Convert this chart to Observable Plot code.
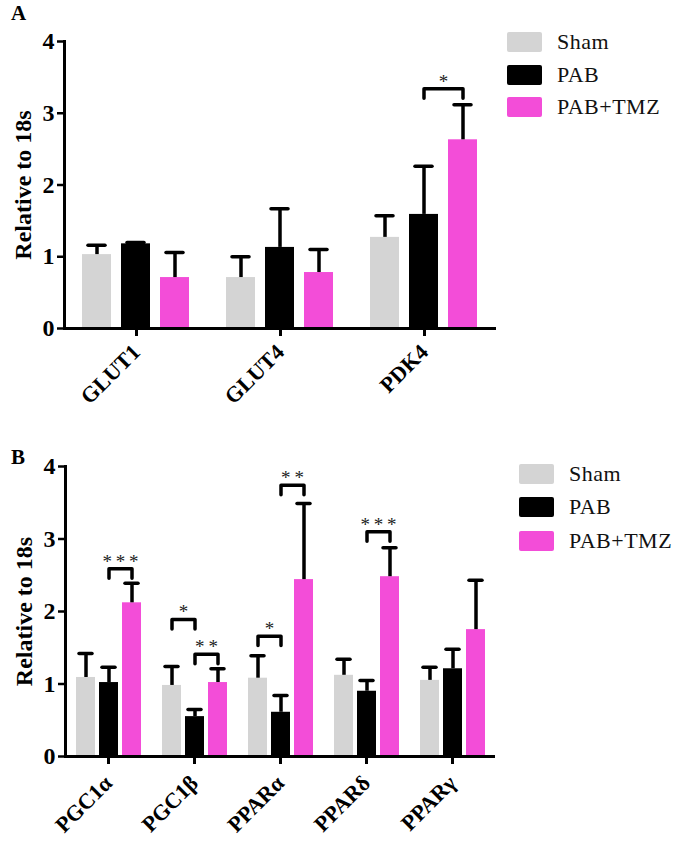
<!DOCTYPE html>
<html><head><meta charset="utf-8">
<script src="https://cdn.jsdelivr.net/npm/d3@7"></script>
<script src="https://cdn.jsdelivr.net/npm/@observablehq/plot@0.6"></script>
<style>
body{margin:0;background:#fff;}
#wrap{position:relative;width:683px;height:844px;font-family:"Liberation Serif","Times New Roman",serif;overflow:hidden;}
#wrap svg, #wrap svg text{font-family:"Liberation Serif","Times New Roman",serif !important;}
.panel{position:absolute;left:0;}
.letter{position:absolute;font-weight:bold;font-size:21px;line-height:1;}
.legend{position:absolute;font-size:22px;color:#111;}
.legend .row{position:absolute;left:0;display:flex;align-items:center;white-space:nowrap;transform:translateY(-50%);}
.legend .sw{width:35px;height:20px;margin-right:15px;border-radius:2px;}
.legend .lab{letter-spacing:0.5px;}
</style></head><body><div id="wrap"></div>
<script>
// ---- shared ----
const groups = ["Sham", "PAB", "PAB+TMZ"];
const groupColors = ["#d4d4d4", "#000000", "#f34dd8"];
const yTicks = [0, 1, 2, 3, 4];

// ---- Panel A ----
const genesA = ["GLUT1", "GLUT4", "PDK4"];
const shamA = [1.03, 0.71, 1.27];
const shamSdA = [0.13, 0.29, 0.30];
const pabA = [1.18, 1.13, 1.59];
const pabSdA = [0.02, 0.54, 0.67];
const tmzA = [0.71, 0.78, 2.63];
const tmzSdA = [0.35, 0.32, 0.49];
const bracketsA = [
  {gene: "PDK4", from: "PAB", to: "PAB+TMZ", y: 3.34, label: "*"}
];

// ---- Panel B ----
const genesB = ["PGC1α", "PGC1β", "PPARα", "PPARδ", "PPARγ"];
const shamB = [1.09, 0.98, 1.08, 1.12, 1.05];
const shamSdB = [0.33, 0.26, 0.31, 0.22, 0.18];
const pabB = [1.02, 0.55, 0.61, 0.90, 1.21];
const pabSdB = [0.21, 0.10, 0.23, 0.15, 0.27];
const tmzB = [2.12, 1.02, 2.44, 2.48, 1.75];
const tmzSdB = [0.27, 0.19, 1.05, 0.40, 0.68];
const bracketsB = [
  {gene: "PGC1α", from: "PAB", to: "PAB+TMZ", y: 2.59, label: "***"},
  {gene: "PGC1β", from: "Sham", to: "PAB", y: 1.89, label: "*"},
  {gene: "PGC1β", from: "PAB", to: "PAB+TMZ", y: 1.41, label: "**"},
  {gene: "PPARα", from: "Sham", to: "PAB", y: 1.66, label: "*"},
  {gene: "PPARα", from: "PAB", to: "PAB+TMZ", y: 3.74, label: "**"},
  {gene: "PPARδ", from: "PAB", to: "PAB+TMZ", y: 3.10, label: "***"}
];

const FONT = '"Liberation Serif","Times New Roman",serif';
const LEG = 0.13;

function makePanel(o) {
  const rows = [];
  o.genes.forEach((g, i) => {
    rows.push({gene: g, group: "Sham", mean: o.sham[i], sd: o.shamSd[i]});
    rows.push({gene: g, group: "PAB", mean: o.pab[i], sd: o.pabSd[i]});
    rows.push({gene: g, group: "PAB+TMZ", mean: o.tmz[i], sd: o.tmzSd[i]});
  });
  const pts = o.brackets.flatMap((b, k) => [
    {k, gene: b.gene, group: b.from, y: b.y - LEG},
    {k, gene: b.gene, group: b.from, y: b.y},
    {k, gene: b.gene, group: b.to, y: b.y},
    {k, gene: b.gene, group: b.to, y: b.y - LEG}
  ]);
  return Plot.plot({
    width: 683, height: o.height,
    marginLeft: 64, marginRight: 187, marginTop: o.marginTop, marginBottom: o.marginBottom,
    style: {fontFamily: FONT, background: "transparent", overflow: "visible", color: "#000"},
    fx: {domain: o.genes, padding: 0, label: null},
    x: {domain: groups, paddingInner: o.padIn, paddingOuter: o.padOut, axis: null},
    y: {domain: [0, 4], label: "Relative to 18s"},
    color: {domain: groups, range: groupColors},
    marks: [
      Plot.barY(rows, {fx: "gene", x: "group", y: "mean", fill: "group"}),
      Plot.ruleX(rows, {fx: "gene", x: "group", y1: "mean", y2: d => d.mean + d.sd, stroke: "#000", strokeWidth: 3.5}),
      Plot.tickY(rows, {fx: "gene", x: "group", y: d => d.mean + d.sd, stroke: "#000", strokeWidth: 3.5, inset: o.capInset, strokeLinecap: "round"}),
      Plot.line(pts, {fx: "gene", x: "group", y: "y", z: "k", stroke: "#000", strokeWidth: 3.5, strokeLinejoin: "round", strokeLinecap: "round", curve: "linear"}),
      Plot.text(o.brackets, {fx: "gene", x: "from", y: "y", text: d => d.label.split("").join("\u2009"), dx: o.step / 2, dy: -1, lineAnchor: "bottom", fontSize: 19, fontWeight: "normal", fill: "#222"}),
      Plot.ruleY([0], {stroke: "#000", strokeWidth: 3}),
      Plot.frame({anchor: "left", facetAnchor: "left", stroke: "#000", strokeWidth: 3}),
      Plot.axisY({ticks: yTicks, tickFormat: d3.format("d"), tickSize: 7, strokeWidth: 2.5, tickPadding: 3, fontSize: 24, fontWeight: "bold",
        label: "Relative to 18s", labelAnchor: "center", labelArrow: "none", labelOffset: 51}),
      Plot.axisFx({anchor: "bottom", label: null, tickSize: 8, strokeWidth: 3, tickRotate: -45, tickPadding: o.xPad, fontSize: 22, fontWeight: "bold"})
    ]
  });
}

const wrap = document.getElementById("wrap");

function place(node, top) {
  const d = document.createElement("div");
  d.className = "panel";
  d.style.top = top + "px";
  d.appendChild(node);
  wrap.appendChild(d);
}

place(makePanel({genes: genesA, sham: shamA, shamSd: shamSdA, pab: pabA, pabSd: pabSdA, tmz: tmzA, tmzSd: tmzSdA,
  brackets: bracketsA, height: 395, marginTop: 41, marginBottom: 67, padIn: 0.256, padOut: 0.474, step: 39, capInset: 6, xPad: 12}), 0);

place(makePanel({genes: genesB, sham: shamB, shamSd: shamSdB, pab: pabB, pabSd: pabSdB, tmz: tmzB, tmzSd: tmzSdB,
  brackets: bracketsB, height: 444, marginTop: 66, marginBottom: 88, padIn: 0.174, padOut: 0.43, step: 23, capInset: 3, xPad: 15}), 400);

function letter(t, x, y) {
  const d = document.createElement("div");
  d.className = "letter"; d.textContent = t;
  d.style.left = x + "px"; d.style.top = y + "px";
  wrap.appendChild(d);
}
letter("A", 11, 3);
letter("B", 11, 447);

function legend(x, ys) {
  const L = document.createElement("div");
  L.className = "legend"; L.style.left = x + "px"; L.style.top = "0px";
  groups.forEach((g, i) => {
    const r = document.createElement("div");
    r.className = "row"; r.style.top = ys[i] + "px";
    const s = document.createElement("div");
    s.className = "sw"; s.style.background = groupColors[i];
    const t = document.createElement("span");
    t.className = "lab"; t.textContent = g;
    r.appendChild(s); r.appendChild(t);
    L.appendChild(r);
  });
  wrap.appendChild(L);
}
legend(507, [42, 75, 107]);
legend(519, [474, 507, 541]);
</script></body></html>
